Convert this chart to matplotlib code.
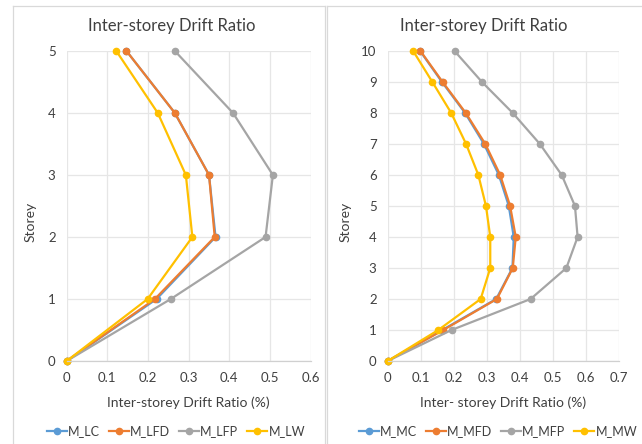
import matplotlib
matplotlib.use("Agg")
import matplotlib.pyplot as plt
from matplotlib.lines import Line2D

plt.rcParams['font.family'] = ['Lato', 'DejaVu Sans']

# Low-rise (5 storey) models
storeys_low = [0, 1, 2, 3, 4, 5]
m_lc = [0, 0.221, 0.366, 0.350, 0.266, 0.147]
m_lfd = [0, 0.217, 0.364, 0.350, 0.266, 0.147]
m_lfp = [0, 0.256, 0.489, 0.507, 0.409, 0.266]
m_lw = [0, 0.199, 0.309, 0.293, 0.224, 0.122]

# Mid-rise (10 storey) models
storeys_mid = [0, 1, 2, 3, 4, 5, 6, 7, 8, 9, 10]
m_mc = [0, 0.165, 0.328, 0.377, 0.381, 0.366, 0.336, 0.291, 0.234, 0.164, 0.098]
m_mfd = [0, 0.168, 0.330, 0.378, 0.387, 0.370, 0.340, 0.295, 0.236, 0.166, 0.099]
m_mfp = [0, 0.193, 0.432, 0.540, 0.574, 0.566, 0.526, 0.460, 0.378, 0.285, 0.202]
m_mw = [0, 0.153, 0.281, 0.310, 0.310, 0.297, 0.274, 0.237, 0.192, 0.135, 0.077]

labels_low = ["M_LC", "M_LFD", "M_LFP", "M_LW"]
labels_mid = ["M_MC", "M_MFD", "M_MFP", "M_MW"]
colors = ["#5B9BD5", "#ED7D31", "#A5A5A5", "#FFC000"]

W, H = 642, 444
fig = plt.figure(figsize=(W / 100, H / 100), dpi=100)

# panel frames
for x0, x1 in [(13, 325), (327, 645)]:
    fig.add_artist(Line2D([x0 / W, x0 / W], [0, 1 - 6 / H], transform=fig.transFigure,
                          color="#D9D9D9", lw=0.9))
    fig.add_artist(Line2D([x0 / W, x1 / W], [1 - 6 / H, 1 - 6 / H], transform=fig.transFigure,
                          color="#D9D9D9", lw=0.9))
    fig.add_artist(Line2D([x1 / W, x1 / W], [0, 1 - 6 / H], transform=fig.transFigure,
                          color="#D9D9D9", lw=0.9))


def make_axes(left, right, top=51, bottom=361):
    return fig.add_axes([left / W, 1 - bottom / H, (right - left) / W, (bottom - top) / H])


def style(ax, xmax, ymax, xlabel, title, ylabel_px, title_px):
    ax.set_xlim(0, xmax)
    ax.set_ylim(0, ymax)
    n = int(round(xmax * 10))
    ax.set_xticks([i / 10 for i in range(n + 1)])
    ax.set_xticklabels(["0"] + [f"{i / 10:g}" for i in range(1, n + 1)])
    ax.set_yticks(range(ymax + 1))
    ax.grid(True, color="#E6E6E6", lw=0.9)
    ax.set_axisbelow(True)
    for s in ["top", "right", "left"]:
        ax.spines[s].set_visible(False)
    ax.spines["bottom"].set_color("#D0D0D0")
    ax.spines["bottom"].set_linewidth(0.9)
    ax.tick_params(length=0, labelsize=9.5, colors="#404040", pad=8)
    ax.set_xlabel(xlabel, fontsize=10, color="#404040", labelpad=9)
    ax.set_ylabel("Storey", fontsize=10, color="#404040")
    ax.yaxis.set_label_coords(ylabel_px / W, 0.5, transform=fig.transFigure)
    # chart title is centred over the whole panel
    fig.text(title_px / W, 1 - 26 / H, title, fontsize=12, color="#404040",
             ha="center", va="center")


def add_legend(ax, center_px):
    ax.legend(loc="center", bbox_to_anchor=(center_px / W, 1 - 431 / H),
              bbox_transform=fig.transFigure, ncol=4, frameon=False,
              fontsize=9, handlelength=1.6, handletextpad=0.1, columnspacing=0.7,
              labelcolor="#404040", borderaxespad=0, borderpad=0)


ax1 = make_axes(66.7, 310.7)
for xs, lab, c in zip([m_lc, m_lfd, m_lfp, m_lw], labels_low, colors):
    ax1.plot(xs, storeys_low, color=c, lw=1.6, marker="o", ms=4.5, label=lab, clip_on=False)
style(ax1, 0.6, 5, "Inter-storey Drift Ratio (%)", "Inter-storey Drift Ratio", 37, 172)
add_legend(ax1, 176)

ax2 = make_axes(387.7, 619.3)
for xs, lab, c in zip([m_mc, m_mfd, m_mfp, m_mw], labels_mid, colors):
    ax2.plot(xs, storeys_mid, color=c, lw=1.6, marker="o", ms=4.5, label=lab, clip_on=False)
style(ax2, 0.7, 10, "Inter- storey Drift Ratio (%)", "Inter-storey Drift Ratio", 352, 484)
add_legend(ax2, 498)

fig.savefig("out.png", dpi=100, facecolor="white")
